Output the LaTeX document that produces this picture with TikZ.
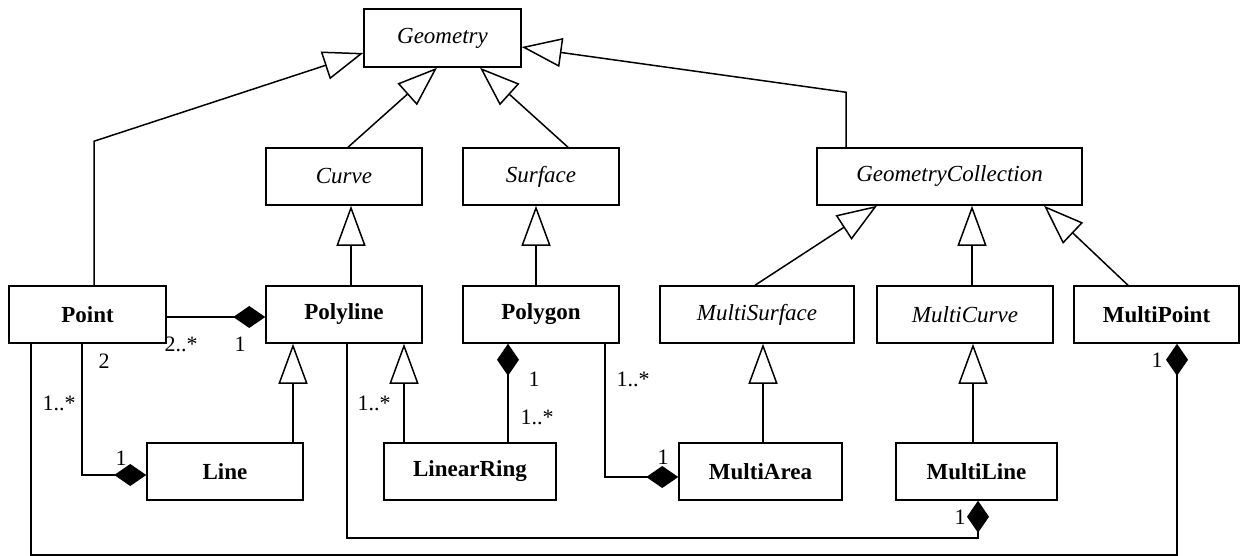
\documentclass[tikz,border=0pt]{standalone}
\usepackage{fontspec}
\setmainfont{Liberation Serif}
\usetikzlibrary{arrows.meta,calc}
\begin{document}
\begin{tikzpicture}[x=1pt,y=-1pt,
  cls/.style={draw,line width=1.5pt,rectangle,inner sep=0pt,minimum height=57pt},
  abstract/.style={cls,font=\fontsize{23}{27}\selectfont\itshape},
  concrete/.style={cls,font=\fontsize{23}{27}\selectfont\bfseries},
  gen/.style={line width=1.5pt,arrows={-Triangle[open,length=40pt,width=29pt]}},
  comps/.style={line width=1.5pt,arrows={Diamond[length=32pt,width=22pt]-}},
  compe/.style={line width=1.5pt,arrows={-Diamond[length=32pt,width=22pt]}},
  mult/.style={font=\fontsize{22}{26}\selectfont,inner sep=0pt}
]
\useasboundingbox (0,0) rectangle (1241,556);

% classes
\node[abstract,minimum width=157pt,minimum height=58pt] (Geometry) at (442.5,38) {Geometry};
\node[abstract,minimum width=156pt] (Curve) at (344,176.5) {Curve};
\node[abstract,minimum width=156pt] (Surface) at (541,176.5) {Surface};
\node[abstract,minimum width=265pt] (GC) at (949.5,176.5) {GeometryCollection};

\node[concrete,minimum width=157pt] (Point) at (87.5,314.5) {Point};
\node[concrete,minimum width=156pt] (Polyline) at (344,314.5) {Polyline};
\node[concrete,minimum width=156pt] (Polygon) at (541,314.5) {Polygon};
\node[abstract,minimum width=194pt] (MultiSurface) at (757,314.5) {MultiSurface};
\node[abstract,minimum width=176pt] (MultiCurve) at (965,314.5) {MultiCurve};
\node[concrete,minimum width=165pt] (MultiPoint) at (1156.5,314.5) {MultiPoint};

\node[concrete,minimum width=156pt] (Line) at (225,471.5) {Line};
\node[concrete,minimum width=172pt] (LinearRing) at (470,471.5) {LinearRing};
\node[concrete,minimum width=163pt] (MultiArea) at (760.5,471.5) {MultiArea};
\node[concrete,minimum width=161pt] (MultiLine) at (976.5,471.5) {MultiLine};

% generalisations
\draw[gen] ($(Point.north)+(6.5,0)$) -- ++(0,-144) -- ($(Geometry.west)+(0,15)$);
\draw[gen] ($(Curve.north)+(4,0)$) -- ($(Geometry.south)+(-5.5,0)$);
\draw[gen] ($(Surface.north)+(27,0)$) -- ($(Geometry.south)+(37.5,0)$);
\draw[gen] ($(GC.north)+(-103.5,0)$) -- ++(0,-55) -- ($(Geometry.east)+(0,9)$);
\draw[gen] ($(Polyline.north)+(7,0)$) -- ($(Curve.south)+(7,0)$);
\draw[gen] ($(Polygon.north)+(-5,0)$) -- ($(Surface.south)+(-5,0)$);
\draw[gen] ($(MultiSurface.north)+(-2,0)$) -- ($(GC.south)+(-72.5,0)$);
\draw[gen] ($(MultiCurve.north)+(7,0)$) -- ($(GC.south)+(22.5,0)$);
\draw[gen] ($(MultiPoint.north)+(-28.5,0)$) -- ($(GC.south)+(94.5,0)$);
\draw[gen] ($(MultiArea.north)+(2.5,0)$) -- ($(MultiSurface.south)+(6,0)$);
\draw[gen] ($(MultiLine.north)+(-3.5,0)$) -- ($(MultiCurve.south)+(8,0)$);
\draw[gen] ($(Line.north)+(68,0)$) -- ($(Polyline.south)+(-51,0)$);
\draw[gen] ($(LinearRing.north)+(-66,0)$) -- ($(Polyline.south)+(60,0)$);

% compositions
\draw[compe] ($(Point.east)+(0,2.5)$) -- ($(Polyline.west)+(0,2.5)$);
\draw[compe] ($(Point.south)+(-5.5,0)$) |- ($(Line.west)+(0,3.5)$);
\draw[comps] ($(Polygon.south)+(-33,0)$) -- ($(LinearRing.north)+(38,0)$);
\draw[compe] ($(Polygon.south)+(64,0)$) |- ($(MultiArea.west)+(0,5.5)$);
\draw[compe] ($(Polyline.south)+(3,0)$) -- ++(0,194) -| ($(MultiLine.south)+(1.5,0)$);
\draw[compe] ($(Point.south)+(-56.5,0)$) -- ++(0,211) -| ($(MultiPoint.south)+(20.5,0)$);

% multiplicities
\node[mult] (mPtPl) at (181,344) {2..*};
\node[mult] (mPlPt) at (240,344) {1};
\node[mult] (mPtLn) at (104,361) {2};
\node[mult] (mLnPt) at (59,403) {1..*};
\node[mult] (mLnOne) at (121,458) {1};
\node[mult] (mRing) at (374,403) {1..*};
\node[mult] (mPgOne) at (534,379) {1};
\node[mult] (mPgRing) at (537,417) {1..*};
\node[mult] (mPgArea) at (633,379) {1..*};
\node[mult] (mAreaOne) at (663,457) {1};
\node[mult] (mMLOne) at (960,517) {1};
\node[mult] (mMPOne) at (1157,360) {1};
\end{tikzpicture}
\end{document}
